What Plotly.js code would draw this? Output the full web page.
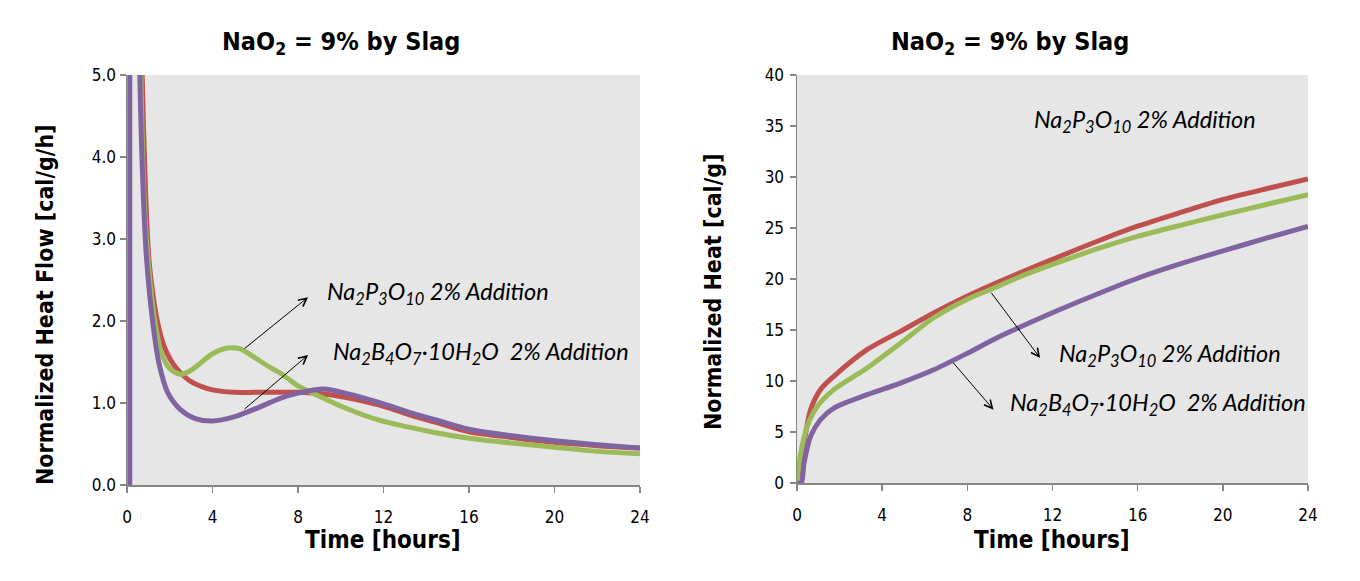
<!DOCTYPE html>
<html>
<head>
<meta charset="utf-8">
<script src="https://cdn.plot.ly/plotly-3.0.1.min.js"></script>
<style>
html,body{margin:0;padding:0;background:#fff;}
#chart{width:1360px;height:581px;}
</style>
</head>
<body>
<div id="chart"></div>
<script>
// ---- Heat flow (left panel) ----
// (the null splits the initial exothermic spike, whose top lies far above the 0-5 range)
const flowBaseX   = [0.13, 0.13, null, 0.45, 0.6, 0.76, 0.92, 1.23, 1.5, 1.9, 2.5, 3.2, 4.0, 5.0, 6.2, 7.2, 8.0, 9.2, 10.2, 11.1, 12.0, 13.4, 14.5, 16.0, 18.0, 20.0, 22.0, 24.0];
const flowBaseY   = [0, 12, null, 9, 5.0, 3.56, 2.74, 1.93, 1.48, 1.13, 0.92, 0.81, 0.78, 0.83, 0.95, 1.06, 1.12, 1.17, 1.12, 1.06, 0.99, 0.87, 0.79, 0.68, 0.60, 0.54, 0.49, 0.45];

const flowPhosX   = [0.5, 0.65, 0.8, 1.0, 1.3, 1.6, 2.0, 2.5, 3.0, 3.5, 4.0, 4.7, 5.3, 6.0, 6.6, 7.2, 8.0, 8.7, 10.3, 11.8, 14.2, 16.0, 17.3, 20.0, 22.0, 24.0];
const flowPhosY   = [8, 5.0, 3.5, 2.7, 2.0, 1.62, 1.42, 1.35, 1.40, 1.50, 1.60, 1.67, 1.66, 1.55, 1.45, 1.36, 1.21, 1.12, 0.93, 0.79, 0.65, 0.57, 0.53, 0.46, 0.41, 0.38];

const flowBoraxX  = [0.55, 0.71, 0.87, 1.03, 1.2, 1.4, 1.6, 1.85, 2.2, 2.5, 3.0, 3.5, 4.0, 5.0, 6.0, 7.2, 8.1, 9.2, 10.2, 11.1, 12.0, 13.4, 14.5, 16.0, 18.0, 20.0, 22.0, 24.0];
const flowBoraxY  = [8, 5.0, 3.56, 2.74, 2.35, 2.02, 1.80, 1.62, 1.46, 1.37, 1.26, 1.20, 1.16, 1.13, 1.13, 1.13, 1.13, 1.11, 1.07, 1.02, 0.96, 0.84, 0.76, 0.65, 0.58, 0.52, 0.48, 0.45];

// ---- Cumulative heat (right panel) ----
const heatBaseX   = [0, 0.2, 0.33, 0.64, 1.1, 1.73, 3.29, 4.86, 6.42, 7.98, 9.54, 11.97, 14.23, 16.03, 18.14, 20.01, 22.04, 24.0];
const heatBaseY   = [0, 0, 1.96, 4.58, 6.2, 7.35, 8.66, 9.8, 11.1, 12.7, 14.38, 16.67, 18.63, 20.1, 21.57, 22.75, 24.0, 25.16];

const heatPhosX   = [0, 0.15, 0.48, 0.95, 1.73, 3.29, 4.86, 6.42, 7.98, 9.07, 10.33, 11.97, 14.23, 16.03, 18.14, 20.01, 22.04, 24.0];
const heatPhosY   = [0, 2.6, 5.56, 7.5, 9.15, 11.27, 13.7, 16.2, 18.0, 18.95, 20.1, 21.4, 23.04, 24.2, 25.33, 26.3, 27.3, 28.27];

const heatBoraxX  = [0, 0.12, 0.33, 0.64, 1.1, 1.73, 3.29, 4.86, 6.42, 7.98, 9.54, 11.97, 14.23, 16.03, 18.14, 20.01, 22.04, 24.0];
const heatBoraxY  = [0, 1.2, 3.9, 7.2, 9.15, 10.46, 13.07, 14.87, 16.67, 18.3, 19.77, 21.9, 23.8, 25.2, 26.6, 27.8, 28.85, 29.8];

const xTicks = [0, 4, 8, 12, 16, 20, 24];
const yTicksFlow = [0, 1, 2, 3, 4, 5];
const yTickFlowText = ['0.0', '1.0', '2.0', '3.0', '4.0', '5.0'];
const yTicksHeat = [0, 5, 10, 15, 20, 25, 30, 35, 40];

const titleText = 'NaO<sub>2</sub> = 9% by Slag';
const labelPhos = 'Na<sub>2</sub>P<sub>3</sub>O<sub>10</sub> 2% Addition';
const labelBorax = 'Na<sub>2</sub>B<sub>4</sub>O<sub>7</sub>·10H<sub>2</sub>O\u00a0 2% Addition';

const RED = '#C0504D', GREEN = '#9BBB59', PURPLE = '#8064A2';
const W = 1360, H = 581;
const px = v => v / W;
const py = v => 1 - v / H;

const lineW = 5;
const fam = 'DejaVu Sans Condensed, DejaVu Sans, sans-serif';
const tickFont = {family: fam, size: 17, color: '#000'};
const titleFont = {family: fam, size: 25, color: '#000', weight: 'bold'};
const xTitleFont = {family: fam, size: 24, color: '#000', weight: 'bold'};
const yTitleFont = {family: fam, size: 23, color: '#000', weight: 'bold'};
const annFont = {family: 'Lato, Open Sans, sans-serif', size: 23.5, color: '#000', style: 'italic'};

const traces = [
  {x: flowBoraxX, y: flowBoraxY, xaxis: 'x', yaxis: 'y', mode: 'lines', line: {color: RED, width: lineW, shape: 'spline', smoothing: 0.8}},
  {x: flowPhosX, y: flowPhosY, xaxis: 'x', yaxis: 'y', mode: 'lines', line: {color: GREEN, width: lineW, shape: 'spline', smoothing: 0.8}},
  {x: flowBaseX, y: flowBaseY, xaxis: 'x', yaxis: 'y', mode: 'lines', connectgaps: false, line: {color: PURPLE, width: lineW, shape: 'spline', smoothing: 0.8}},
  {x: heatBoraxX, y: heatBoraxY, xaxis: 'x2', yaxis: 'y2', mode: 'lines', line: {color: RED, width: lineW, shape: 'spline', smoothing: 0.8}},
  {x: heatPhosX, y: heatPhosY, xaxis: 'x2', yaxis: 'y2', mode: 'lines', line: {color: GREEN, width: lineW, shape: 'spline', smoothing: 0.8}},
  {x: heatBaseX, y: heatBaseY, xaxis: 'x2', yaxis: 'y2', mode: 'lines', line: {color: PURPLE, width: lineW, shape: 'spline', smoothing: 0.8}}
];

const axisCommon = {
  showgrid: false, zeroline: false, showline: true, linecolor: '#868686', linewidth: 1.5,
  ticks: 'outside', ticklen: 6, tickcolor: '#868686', tickwidth: 1.5,
  tickfont: tickFont, fixedrange: true
};

function arrow(xref, yref, hx, hy, tx, ty) {
  return {xref: xref, yref: yref, axref: xref, ayref: yref, x: hx, y: hy, ax: tx, ay: ty,
    text: '', showarrow: true, arrowhead: 5, arrowsize: 1.6, arrowwidth: 1, arrowcolor: '#000'};
}
function label(xref, yref, x, y, text) {
  return {xref: xref, yref: yref, x: x, y: y, text: text, showarrow: false,
    xanchor: 'left', yanchor: 'middle', font: annFont};
}

const layout = {
  width: W, height: H,
  margin: {l: 0, r: 0, t: 0, b: 0},
  paper_bgcolor: '#fff',
  showlegend: false,
  xaxis: Object.assign({}, axisCommon, {domain: [px(127), px(640)], range: [0, 24], tickvals: xTicks, anchor: 'y', ticklabelstandoff: 10}),
  yaxis: Object.assign({}, axisCommon, {domain: [py(485), py(75)], range: [0, 5], tickvals: yTicksFlow, ticktext: yTickFlowText, anchor: 'x'}),
  xaxis2: Object.assign({}, axisCommon, {domain: [px(797), px(1308)], range: [0, 24], tickvals: xTicks, anchor: 'y2', ticklabelstandoff: 10}),
  yaxis2: Object.assign({}, axisCommon, {domain: [py(483), py(75)], range: [0, 40], tickvals: yTicksHeat, anchor: 'x2', ticklabelstandoff: 2}),
  shapes: [
    {type: 'rect', xref: 'x domain', yref: 'y domain', x0: 0, x1: 1, y0: 0, y1: 1, fillcolor: '#E6E6E6', line: {width: 0}, layer: 'below'},
    {type: 'rect', xref: 'x2 domain', yref: 'y2 domain', x0: 0, x1: 1, y0: 0, y1: 1, fillcolor: '#E6E6E6', line: {width: 0}, layer: 'below'}
  ],
  annotations: [
    {xref: 'paper', yref: 'paper', x: px(341), y: py(43), text: titleText, showarrow: false, xanchor: 'center', yanchor: 'middle', font: titleFont},
    {xref: 'paper', yref: 'paper', x: px(1010), y: py(43), text: titleText, showarrow: false, xanchor: 'center', yanchor: 'middle', font: titleFont},
    {xref: 'paper', yref: 'paper', x: px(383), y: py(540), text: 'Time [hours]', showarrow: false, xanchor: 'center', yanchor: 'middle', font: xTitleFont},
    {xref: 'paper', yref: 'paper', x: px(1052), y: py(540), text: 'Time [hours]', showarrow: false, xanchor: 'center', yanchor: 'middle', font: xTitleFont},
    {xref: 'paper', yref: 'paper', x: px(45), y: py(305), text: 'Normalized Heat Flow [cal/g/h]', textangle: -90, showarrow: false, xanchor: 'center', yanchor: 'middle', font: yTitleFont},
    {xref: 'paper', yref: 'paper', x: px(713), y: py(292), text: 'Normalized Heat [cal/g]', textangle: -90, showarrow: false, xanchor: 'center', yanchor: 'middle', font: yTitleFont},
    arrow('x', 'y', 8.47, 2.29, 5.43, 1.65),
    arrow('x', 'y', 8.47, 1.585, 5.43, 0.91),
    label('x', 'y', 9.26, 2.34, labelPhos),
    label('x', 'y', 9.54, 1.61, labelBorax),
    arrow('x2', 'y2', 11.42, 12.25, 9.07, 18.8),
    arrow('x2', 'y2', 9.23, 7.19, 7.28, 11.93),
    label('x2', 'y2', 11.03, 35.5, labelPhos),
    label('x2', 'y2', 12.2, 12.55, labelPhos),
    label('x2', 'y2', 9.9, 7.75, labelBorax)
  ]
};

Plotly.newPlot('chart', traces, layout, {displayModeBar: false, staticPlot: true});
</script>
</body>
</html>
